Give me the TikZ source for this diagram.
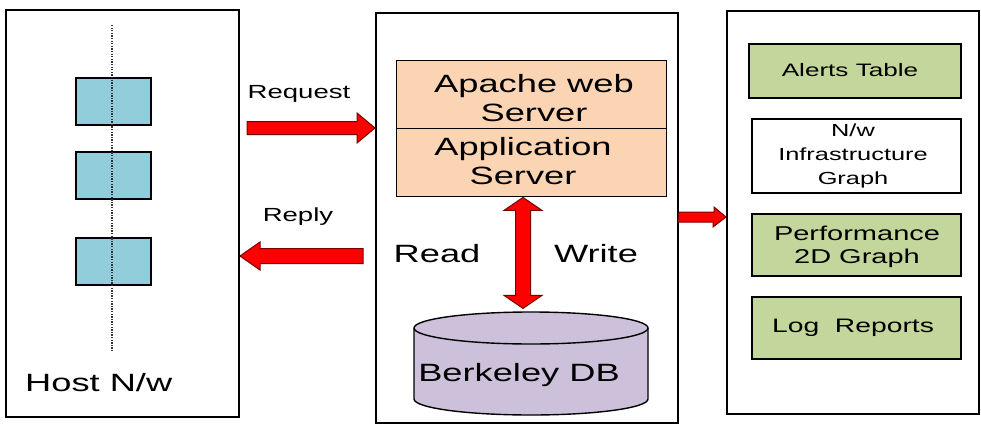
\documentclass[tikz,border=0pt]{standalone}
\usepackage{fontspec}
\setmainfont[FakeStretch=1.45]{Liberation Sans}
\definecolor{hostblue}{HTML}{92CDDC}
\definecolor{srvorange}{HTML}{FBD4B4}
\definecolor{dblav}{HTML}{CCC0DA}
\definecolor{outgreen}{HTML}{C3D69B}
\definecolor{arrowborder}{HTML}{7A0000}
\begin{document}
\begin{tikzpicture}[x=1pt,y=-1pt,
  outerbox/.style={draw=black, line width=2, fill=white, inner sep=0, anchor=north west},
  hostbox/.style={draw=black, line width=1.6, fill=hostblue, inner sep=0, anchor=north west, minimum width=75, minimum height=47},
  srvbox/.style={draw=black, line width=1.4, fill=srvorange, inner sep=0, anchor=north west, minimum width=270, minimum height=68},
  outbox/.style={draw=black, line width=1.6, inner sep=0, anchor=north west, minimum width=209},
  blockarrow/.style={fill=red, draw=arrowborder, line width=1},
  bigtxt/.style={font=\fontsize{25}{29}\selectfont, inner sep=0, align=center},
  midtxt/.style={font=\fontsize{19}{23}\selectfont, inner sep=0, align=center}
]
\useasboundingbox (0,0) rectangle (981,436);

% containers
\node[outerbox, minimum width=233, minimum height=407] (host) at (5,9) {};
\node[outerbox, minimum width=302, minimum height=410] (mid) at (375,12) {};
\node[outerbox, minimum width=252, minimum height=403] (out) at (726,10) {};

% host network
\coordinate (busTop) at (112,25);
\coordinate (busBot) at (112,352);
\node[hostbox] (h1) at (75,77) {};
\node[hostbox] (h2) at (75,151) {};
\node[hostbox] (h3) at (75,237) {};
\draw[black!80, line width=1.3, dash pattern=on 1.3 off 1.3] (busTop) -- (busBot);
\node[bigtxt, anchor=west] (hostlbl) at (25,383) {Host N/w};

% request / reply
\node[midtxt] (reqlbl) at (299,94) {Request};
\node[midtxt] (replbl) at (298,217) {Reply};
\coordinate (reqtail) at (247,128);
\coordinate (reqtip) at (mid.west |- 0,128);
\draw[blockarrow] (reqtail) ++(0,-6.5) -- ++(110,0) -- ++(0,-8.5) -- (reqtip)
  -- ++(-18,15) -- ++(0,-8.5) -- ++(-110,0) -- cycle;
\coordinate (reptip) at (host.east |- 0,256);
\draw[blockarrow] (reptip) -- ++(20,-14) -- ++(0,6.5) -- ++(103,0) -- ++(0,15)
  -- ++(-103,0) -- ++(0,6.5) -- cycle;

% servers
\node[srvbox] (apache) at (396,60) {};
\node[srvbox] (app) at (396,128) {};
\node[bigtxt] (apachelbl) at (534,98.5) {Apache web\\Server};
\node[bigtxt] (applbl) at (523,161.5) {Application\\Server};

% database
\coordinate (dbc) at (531,328);
\fill[dblav] (414,328) -- (414,399) arc[start angle=180, end angle=0, x radius=117, y radius=16] -- (648,328) -- cycle;
\draw[black, line width=1.4] (414,328) -- (414,399) arc[start angle=180, end angle=0, x radius=117, y radius=16] -- (648,328);
\draw[black, line width=1.4, fill=dblav] (dbc) ellipse[x radius=117, y radius=16];
\node[bigtxt] (dblbl) at (519,375) {Berkeley DB};

% read/write arrow
\coordinate (rwtop) at (app.south -| 523,0);
\draw[blockarrow] (rwtop) -- ++(19,13) -- ++(-11.5,0) -- ++(0,85) -- ++(11.5,0)
  -- ++(-19,13) -- ++(-19,-13) -- ++(11.5,0) -- ++(0,-85) -- ++(-11.5,0) -- cycle;
\node[bigtxt] (readlbl) at (437,254) {Read};
\node[bigtxt] (writelbl) at (596,254) {Write};

% to outputs
\coordinate (outtail) at (mid.east |- 0,217);
\coordinate (outtip) at (out.west |- 0,217);
\draw[blockarrow] (outtail) ++(0,-5) -- ++(35,0) -- ++(0,-5) -- (outtip)
  -- ++(-13,10) -- ++(0,-5) -- ++(-35,0) -- cycle;

% outputs
\node[outbox, fill=outgreen, minimum width=212, minimum height=54] (alerts) at (748,43) {};
\node[outbox, fill=white, minimum height=74] (infra) at (751,118) {};
\node[outbox, fill=outgreen, minimum height=62] (perf) at (751,213) {};
\node[outbox, fill=outgreen, minimum height=62] (logs) at (751,296) {};
\node[font=\fontsize{18}{22}\selectfont, inner sep=0] (alertslbl) at (850,70) {Alerts Table};
\node[font=\fontsize{17.5}{24}\selectfont, inner sep=0, align=center] (infralbl) at (853,155.5) {N/w\\Infrastructure\\Graph};
\node[font=\fontsize{20}{23}\selectfont, inner sep=0, align=center] (perflbl) at (857,246.5) {Performance\\2D Graph};
\node[font=\fontsize{19.5}{23}\selectfont, inner sep=0] (logslbl) at (853,328) {Log\ \ Reports};
\end{tikzpicture}
\end{document}
